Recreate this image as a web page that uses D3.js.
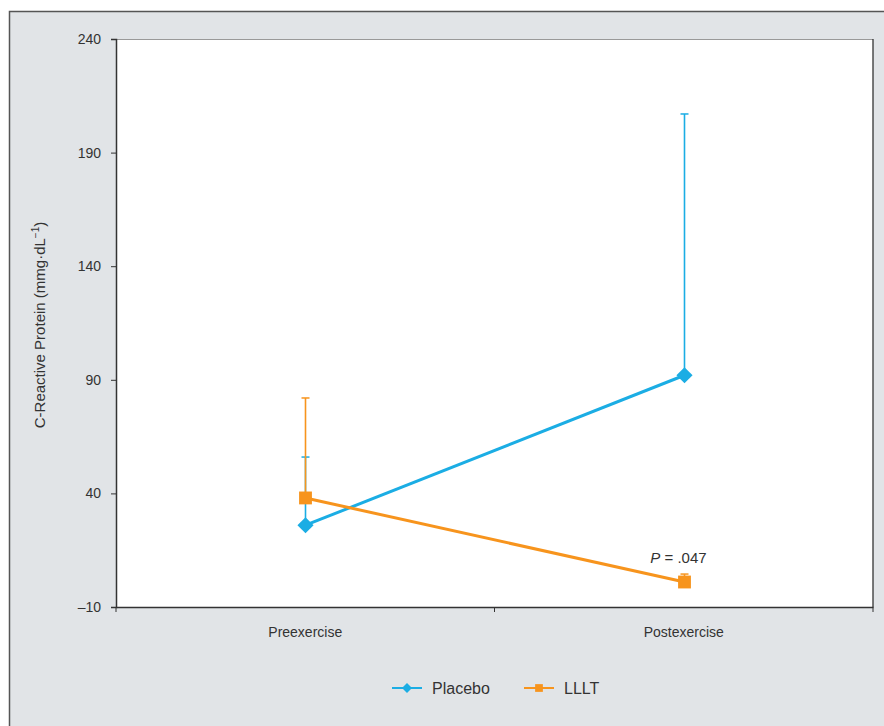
<!DOCTYPE html>
<html>
<head>
<meta charset="utf-8">
<script src="https://cdn.jsdelivr.net/npm/d3@7"></script>
<style>
  body { margin: 0; background: #fff; }
  text { font-family: "Liberation Sans Narrow", "Liberation Sans", sans-serif; fill: #333; }
</style>
</head>
<body>
<svg id="chart" width="884" height="726"></svg>
<script>
const svg = d3.select("#chart"),
  width = +svg.attr("width"),
  height = +svg.attr("height");

const phases = ["Preexercise", "Postexercise"];
const placeboMean = [26, 92];
const placeboUpper = [56, 207];
const llltMean = [38, 1];
const llltUpper = [82, 4.5];
const yTicks = [-10, 40, 90, 140, 190, 240];

const blue = "#1badE4", orange = "#f7941d";
const margin = { left: 116, right: 873, top: 39, bottom: 607 };

// outer frame
svg.append("rect").attr("x", 9.5).attr("y", 11.5).attr("width", 890).attr("height", 730)
  .attr("fill", "#e1e4e7").attr("stroke", "#555").attr("stroke-width", 1.5);
svg.append("rect").attr("x", margin.left).attr("y", margin.top)
  .attr("width", margin.right - margin.left).attr("height", margin.bottom - margin.top)
  .attr("fill", "#fff");
svg.append("line").attr("x1", margin.left).attr("x2", margin.right)
  .attr("y1", margin.top + 0.5).attr("y2", margin.top + 0.5).attr("stroke", "#999");
svg.append("line").attr("x1", margin.right).attr("x2", margin.right)
  .attr("y1", margin.top).attr("y2", margin.bottom).attr("stroke", "#333").attr("stroke-width", 1.3);

const x = d3.scaleBand().domain(phases).range([margin.left, margin.right]);
const y = d3.scaleLinear().domain([-10, 240]).range([margin.bottom, margin.top]);
const cx = d => Math.round(x(d) + x.bandwidth() / 2) + 0.5;

// axes
const yAxis = svg.append("g").attr("transform", `translate(${margin.left},0)`)
  .call(d3.axisLeft(y).tickValues(yTicks).tickSize(5).tickPadding(10));
yAxis.select(".domain").attr("stroke", "#333").attr("stroke-width", 1.5);
yAxis.selectAll(".tick line").attr("stroke", "#333");
yAxis.selectAll("text").attr("font-size", 14).style("fill", "#333")
  .text(d => d < 0 ? "\u2013" + Math.abs(d) : d);

const xAxis = svg.append("g").attr("transform", `translate(0,${margin.bottom})`)
  .call(d3.axisBottom(x).tickSize(0).tickPadding(20));
xAxis.select(".domain").attr("stroke", "#333").attr("stroke-width", 1.5);
xAxis.selectAll("text").attr("font-size", 14).style("fill", "#333");
svg.append("g").selectAll("line").data([margin.left, (margin.left + margin.right) / 2, margin.right])
  .join("line").attr("x1", d => d).attr("x2", d => d)
  .attr("y1", margin.bottom).attr("y2", margin.bottom + 5).attr("stroke", "#333");

// y label
svg.append("text").attr("transform", "translate(45,325) rotate(-90)")
  .attr("text-anchor", "middle").attr("font-size", 15)
  .html('C-Reactive Protein (mmg·dL<tspan dy="-6" font-size="10">\u22121</tspan><tspan dy="6">)</tspan>');

const series = [
  { name: "LLLT", mean: llltMean, upper: llltUpper, color: orange, rot: 0, size: 165 },
  { name: "Placebo", mean: placeboMean, upper: placeboUpper, color: blue, rot: 45, size: 130 }
];

// error bars (placebo drawn first, LLLT on top)
[series[1], series[0]].forEach(s => {
  const g = svg.append("g");
  g.selectAll("line.err").data(phases).join("line").attr("class", "err")
    .attr("x1", cx).attr("x2", cx)
    .attr("y1", (d, i) => y(s.mean[i])).attr("y2", (d, i) => y(s.upper[i]))
    .attr("stroke", s.color).attr("stroke-width", 1.6);
  g.selectAll("line.cap").data(phases).join("line").attr("class", "cap")
    .attr("x1", d => cx(d) - 4).attr("x2", d => cx(d) + 4)
    .attr("y1", (d, i) => y(s.upper[i])).attr("y2", (d, i) => y(s.upper[i]))
    .attr("stroke", s.color).attr("stroke-width", 1.5);
});

// lines and markers
const line = d3.line().x(d => cx(d.p)).y(d => y(d.v));
[series[1], series[0]].forEach(s => {
  const pts = phases.map((p, i) => ({ p: p, v: s.mean[i] }));
  svg.append("path").datum(pts).attr("d", line)
    .attr("fill", "none").attr("stroke", s.color).attr("stroke-width", 3);
});
series.forEach(s => {
  svg.append("g").selectAll("path").data(phases).join("path")
    .attr("transform", (d, i) => `translate(${cx(d)},${y(s.mean[i])}) rotate(${s.rot})`)
    .attr("d", d3.symbol().type(d3.symbolSquare).size(s.size))
    .attr("fill", s.color);
});

// p value
svg.append("text").attr("x", cx("Postexercise") - 6).attr("y", y(llltMean[1]) - 19)
  .attr("text-anchor", "middle").attr("font-size", 15)
  .html('<tspan font-style="italic">P</tspan> = .047');

// legend
const legend = [
  { name: "Placebo", color: blue, rot: 45, size: 50, x: 392 },
  { name: "LLLT", color: orange, rot: 0, size: 60, x: 524 }
];
const lg = svg.append("g").selectAll("g").data(legend).join("g")
  .attr("transform", d => `translate(${d.x},688)`);
lg.append("line").attr("x1", 0).attr("x2", 30).attr("stroke", d => d.color).attr("stroke-width", 2);
lg.append("path").attr("transform", d => `translate(15,0) rotate(${d.rot})`)
  .attr("d", d => d3.symbol().type(d3.symbolSquare).size(d.size)())
  .attr("fill", d => d.color);
lg.append("text").attr("x", 40).attr("dy", "0.35em").attr("font-size", 16).text(d => d.name);
</script>
</body>
</html>
